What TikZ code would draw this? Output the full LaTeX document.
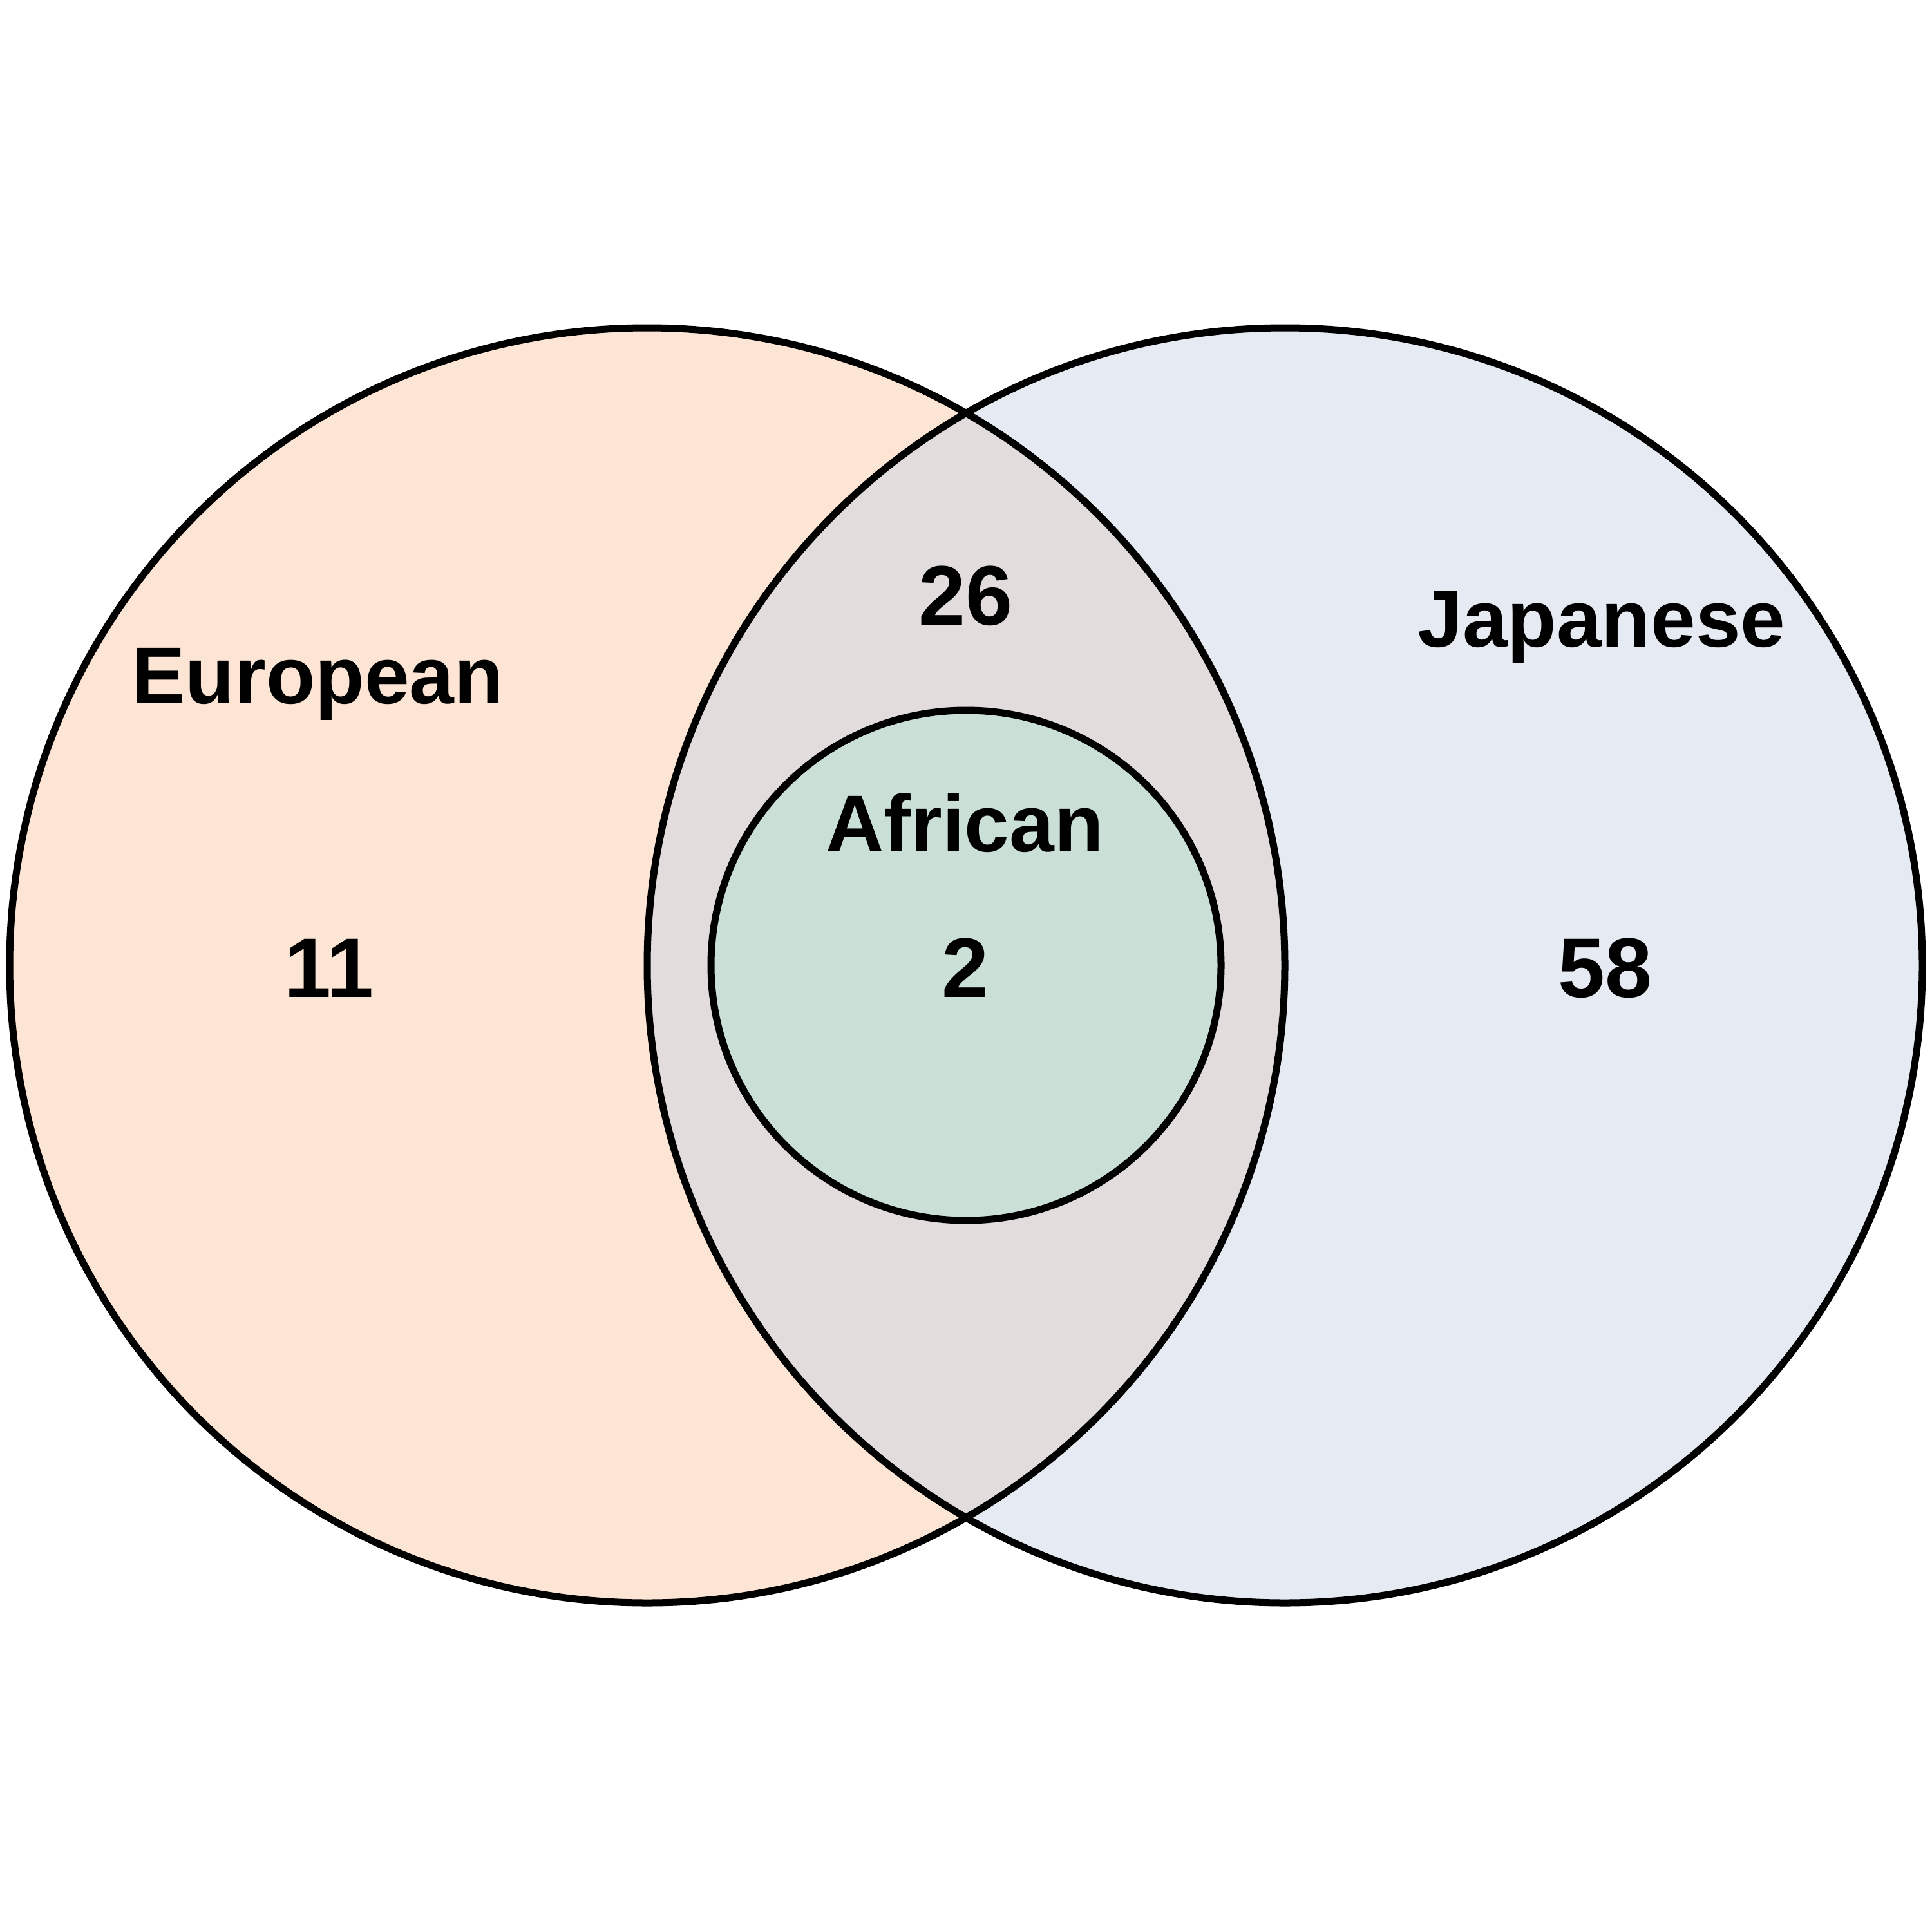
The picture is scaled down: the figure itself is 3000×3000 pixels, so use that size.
\documentclass[tikz,border=0pt]{standalone}
\usepackage{fontspec}
\setmainfont{Liberation Sans}
\begin{document}
\begin{tikzpicture}[x=0.01cm,y=-0.01cm]
\definecolor{cEur}{HTML}{FCE5D4}
\definecolor{cJap}{HTML}{E5EAF3}
\definecolor{cMid}{HTML}{E2DCDC}
\definecolor{cAfr}{HTML}{CADFD5}
\tikzset{
  ring/.style={draw=black, line width=0.11cm},
  lab/.style={anchor=base, font=\fontsize{35.6}{40}\selectfont\bfseries, inner sep=0pt},
  num/.style={anchor=base, font=\fontsize{37.3}{42}\selectfont\bfseries, inner sep=0pt}
}
\useasboundingbox (0,0) rectangle (3000,3000);
\fill[white] (0,0) rectangle (3000,3000);
% fills
\fill[cEur] (1005,1499) circle (990);
\fill[cJap] (1995,1499) circle (990);
\begin{scope}
  \clip (1005,1499) circle (990);
  \fill[cMid] (1995,1499) circle (990);
\end{scope}
\fill[cAfr] (1500,1499) circle (396);
% outlines
\draw[ring] (1005,1499) circle (990);
\draw[ring] (1995,1499) circle (990);
\draw[ring] (1500,1499) circle (396);
% labels
\node[lab] (eur) at (493,1092) {European};
\node[lab] (jap) at (2487,1004) {Japanese};
\node[lab] (afr) at (1498,1322) {African};
\node[num] (n11) at (511,1548) {11};
\node[num] (n26) at (1499,970) {26};
\node[num] (n2) at (1499,1548) {2};
\node[num] (n58) at (2492,1548) {58};
\end{tikzpicture}
\end{document}
